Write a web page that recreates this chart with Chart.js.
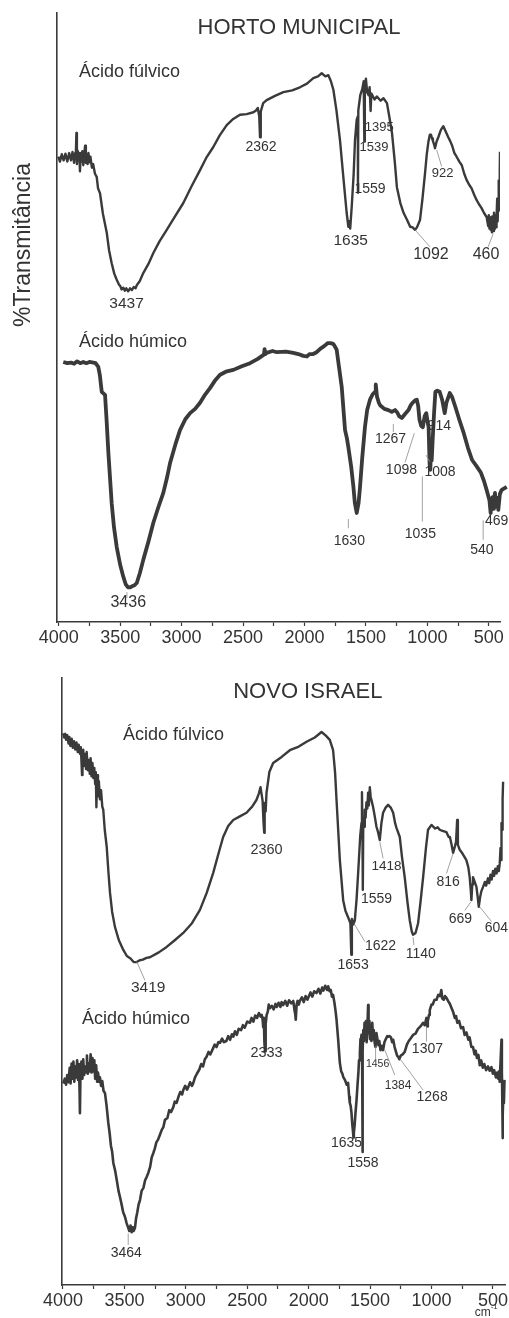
<!DOCTYPE html>
<html>
<head>
<meta charset="utf-8">
<script src="https://cdn.jsdelivr.net/npm/chart.js@4.4.1/dist/chart.umd.min.js"></script>
<style>
  html, body { margin: 0; padding: 0; background: #fff; }
  #wrap { position: relative; width: 509px; height: 1318px; }
  .box { position: absolute; left: 0; width: 509px; }
  #top { top: 0; height: 655px; }
  #bot { top: 655px; height: 663px; }
</style>
</head>
<body>
<div id="wrap">
  <div class="box" id="top"><canvas id="c1"></canvas></div>
  <div class="box" id="bot"><canvas id="c2"></canvas></div>
</div>
<script>
// ===== dados (número de onda cm-1, %T arbitrária 0-100) =====
const xTicks = [4000,3750,3500,3250,3000,2750,2500,2250,2000,1750,1500,1250,1000,750,500];
const xLabels = [4000,3500,3000,2500,2000,1500,1000,500];

const hortoFulvico = [[4003,76.4],[3990,75.6],[3975,76.8],[3960,75.8],[3945,76.9],[3930,75.6],[3915,77.0],[3900,75.8],
  [3888,77.2],[3875,75.4],[3866,77.0],[3862,76.0],[3856,80.3],[3852,75.2],[3846,77.4],[3840,75.8],[3833,77.0],[3827,74.0],
  [3821,76.8],[3815,75.6],[3808,77.3],[3800,75.0],[3792,77.0],[3785,78.2],[3779,75.4],[3772,76.8],[3765,75.2],[3758,77.0],
  [3750,75.5],[3742,76.4],[3730,74.6],[3720,75.2],[3705,73.6],[3691,73.1],[3680,71.2],[3664,70.4],[3640,67.0],[3609,63.9],
  [3590,61.0],[3569,58.9],[3548,57.2],[3528,56.2],[3510,55.4],[3500,55.2],[3488,54.6],[3474,54.9],[3462,54.4],[3450,54.8],
  [3435,54.3],[3420,54.8],[3405,54.5],[3390,55.0],[3375,54.8],[3365,55.3],[3340,56.0],[3312,57.3],[3270,58.8],[3230,60.6],
  [3180,62.5],[3121,64.4],[3060,66.4],[2986,68.8],[2920,71.5],[2850,74.2],[2800,76.2],[2742,78.0],[2690,79.9],[2633,81.6],
  [2580,82.6],[2525,83.3],[2470,83.4],[2416,83.7],[2395,84.0],[2380,84.4],[2368,83.0],[2362,79.6],[2356,83.8],[2345,84.6],
  [2336,85.2],[2308,85.7],[2240,86.4],[2172,87.0],[2100,87.3],[2037,87.8],[1980,88.4],[1928,89.3],[1890,89.6],[1860,90.1],
  [1830,89.6],[1806,89.8],[1785,88.8],[1765,87.4],[1740,84.0],[1711,79.1],[1684,73.1],[1657,67.2],[1643,64.9],[1635,65.8],
  [1628,64.6],[1616,68.1],[1600,73.5],[1589,79.1],[1575,82.5],[1566,83.0],[1565,70.5],[1562,84.0],[1546,86.5],[1530,87.5],
  [1518,88.8],[1513,78.9],[1509,88.0],[1500,89.2],[1490,87.0],[1478,86.5],[1470,87.8],[1462,83.9],[1456,86.8],[1430,85.8],
  [1411,86.3],[1380,85.6],[1357,86.0],[1329,85.2],[1310,83.0],[1288,80.3],[1265,75.5],[1248,71.4],[1220,68.8],[1194,67.2],
  [1165,66.0],[1140,64.9],[1120,64.8],[1100,64.4],[1085,64.8],[1060,66.0],[1040,69.5],[1019,73.7],[1005,76.8],[992,78.8],
  [980,80.0],[970,80.0],[962,79.4],[955,79.0],[945,78.4],[938,77.8],[925,78.9],[911,79.6],[890,80.8],[870,81.4],[850,80.5],
  [830,79.6],[815,79.0],[800,78.3],[780,77.0],[762,76.4],[740,75.6],[720,75.0],[700,73.6],[681,72.6],[660,71.8],[640,71.2],
  [620,70.2],[600,69.3],[580,68.6],[560,68.0],[540,67.2],[518,66.5],[505,65.0],[500,66.8],[495,64.6],[490,66.2],[485,64.4],
  [480,66.5],[475,64.0],[470,66.6],[464,64.2],[458,67.2],[452,64.5],[447,66.8],[441,64.8],[437,66.4],[432,69.5],[428,65.8],
  [425,68.5],[421,72.5],[418,67.5],[414,70.0],[411,74.0],[409,77.2]];

const hortoHumico = [[3963,42.7],[3930,42.5],[3900,42.6],[3875,42.4],[3850,42.8],[3825,42.5],[3800,42.7],[3775,42.5],
  [3750,42.7],[3718,42.6],[3700,42.5],[3678,41.9],[3665,40.5],[3650,37.8],[3623,37.3],[3610,33.0],[3596,27.8],[3569,19.5],
  [3550,15.5],[3528,12.3],[3500,9.4],[3474,7.4],[3455,6.2],[3436,5.7],[3418,5.7],[3400,5.9],[3385,6.0],[3365,6.4],
  [3340,8.0],[3312,10.2],[3270,13.2],[3230,16.3],[3190,18.8],[3149,21.2],[3120,23.6],[3094,26.1],[3050,29.2],[3013,31.5],
  [2970,33.3],[2931,34.3],[2890,35.0],[2850,36.0],[2810,37.3],[2769,38.4],[2730,39.6],[2687,40.6],[2640,41.1],[2579,41.4],
  [2510,42.0],[2443,42.5],[2380,43.2],[2330,43.9],[2325,44.8],[2318,44.0],[2308,44.2],[2260,44.5],[2226,44.3],[2150,44.4],
  [2091,44.2],[2050,44.0],[2010,43.7],[1980,43.6],[1960,44.0],[1930,44.0],[1901,44.3],[1870,44.9],[1840,45.3],[1810,45.8],
  [1792,45.8],[1770,45.7],[1760,45.5],[1738,44.7],[1720,42.0],[1697,38.6],[1670,31.5],[1655,30.2],[1643,28.7],[1620,25.5],
  [1602,22.2],[1590,19.5],[1575,17.9],[1560,19.5],[1548,22.2],[1530,27.0],[1508,32.0],[1490,34.8],[1467,36.5],[1445,37.4],
  [1426,37.8],[1420,39.0],[1410,37.0],[1395,36.0],[1385,35.6],[1350,35.0],[1317,34.8],[1290,34.5],[1263,34.8],[1245,34.4],
  [1230,33.8],[1208,33.5],[1180,34.2],[1154,34.8],[1135,35.6],[1120,36.0],[1100,36.4],[1086,36.5],[1075,35.5],[1064,33.2],
  [1050,32.2],[1037,32.0],[1022,33.8],[1009,34.3],[995,32.5],[990,32.0],[982,26.0],[976,25.0],[970,29.0],[965,26.5],
  [957,29.9],[945,34.5],[935,37.8],[920,38.0],[900,37.8],[880,36.5],[859,34.3],[845,36.0],[818,37.6],[800,37.0],[772,35.3],
  [740,33.2],[704,31.0],[670,28.6],[636,26.6],[600,25.6],[564,24.5],[540,23.2],[518,21.7],[495,20.0],[485,17.9],[478,19.6],
  [470,20.5],[464,18.6],[458,19.8],[450,21.2],[443,19.0],[438,20.4],[430,20.0],[423,18.4],[410,21.0],[395,21.7],[354,22.2]];

const novoFulvico = [[3998,90.9],[3990,90.2],[3982,90.8],[3975,89.8],[3965,90.6],[3955,89.2],[3948,90.3],[3940,88.8],
  [3929,90.0],[3920,88.5],[3910,89.6],[3900,88.2],[3890,89.4],[3880,87.8],[3872,89.0],[3862,87.5],[3855,88.6],[3850,86.5],
  [3845,84.0],[3841,85.8],[3835,88.2],[3828,85.5],[3820,87.5],[3812,85.0],[3807,87.8],[3798,84.8],[3790,86.5],[3782,84.2],
  [3775,86.8],[3768,83.8],[3760,86.0],[3753,83.5],[3745,85.2],[3738,82.5],[3733,84.5],[3728,78.7],[3722,84.0],[3715,80.5],
  [3708,83.0],[3699,80.0],[3690,81.5],[3680,78.8],[3672,78.3],[3660,75.0],[3644,72.2],[3630,68.0],[3617,64.6],[3600,61.5],
  [3577,59.0],[3545,56.8],[3509,55.2],[3480,54.2],[3450,53.8],[3425,53.2],[3400,53.2],[3375,53.5],[3350,53.6],[3320,53.9],
  [3292,54.0],[3220,54.8],[3156,55.7],[3090,56.8],[3021,58.0],[2950,59.6],[2885,61.8],[2830,64.6],[2777,67.9],[2735,71.0],
  [2696,73.8],[2655,75.6],[2614,76.6],[2560,77.2],[2506,77.8],[2460,78.8],[2425,79.9],[2405,81.0],[2392,82.0],[2375,79.8],
  [2368,76.5],[2362,74.5],[2358,79.4],[2350,78.0],[2343,81.1],[2320,84.5],[2289,86.0],[2220,87.0],[2153,88.1],[2080,88.7],
  [2017,89.5],[1950,90.2],[1895,91.1],[1860,90.5],[1828,89.8],[1801,88.1],[1785,84.5],[1773,79.9],[1746,70.0],[1719,63.4],
  [1700,61.6],[1679,60.6],[1660,59.6],[1653,54.4],[1648,60.3],[1635,59.4],[1624,60.1],[1610,63.5],[1597,67.9],[1580,74.0],
  [1570,76.1],[1566,81.2],[1562,75.5],[1559,65.1],[1555,77.0],[1549,75.5],[1543,78.3],[1536,77.0],[1530,79.5],[1522,78.5],
  [1516,81.1],[1510,79.0],[1502,82.0],[1495,80.4],[1490,80.0],[1475,78.7],[1460,77.0],[1448,75.5],[1435,74.6],[1421,73.3],
  [1408,76.0],[1394,77.8],[1375,78.6],[1353,79.1],[1330,78.6],[1312,77.8],[1295,76.0],[1285,75.3],[1258,73.8],[1240,70.5],
  [1218,67.2],[1195,63.0],[1177,60.1],[1160,58.2],[1150,57.7],[1130,58.0],[1109,59.6],[1090,63.0],[1068,67.2],[1045,72.0],
  [1028,75.0],[1000,75.8],[970,75.2],[950,75.4],[933,75.0],[910,74.8],[878,74.6],[860,73.8],[850,73.8],[835,72.4],[824,71.2],
  [810,72.2],[800,73.0],[791,76.6],[785,72.5],[770,71.7],[745,71.0],[716,70.0],[700,68.8],[689,67.2],[680,65.0],[675,63.4],
  [668,66.0],[662,67.2],[648,66.4],[634,65.6],[622,63.6],[615,62.3],[605,63.8],[595,64.8],[580,65.6],[565,66.4],[555,65.8],
  [540,67.0],[530,66.2],[520,67.6],[510,66.8],[499,68.2],[490,67.4],[480,68.6],[470,67.8],[460,69.0],[452,68.2],[444,69.5],
  [438,72.0],[434,70.0],[430,76.1],[425,75.0],[421,80.0],[417,82.9]];

const novoHumico = [[3998,33.2],[3985,34.0],[3975,33.0],[3965,34.6],[3955,33.4],[3945,35.8],[3938,33.2],[3930,36.5],
  [3922,34.0],[3915,36.8],[3908,33.5],[3900,36.0],[3892,34.2],[3885,37.0],[3877,33.8],[3870,36.4],[3865,32.0],[3862,28.3],
  [3858,34.5],[3850,36.8],[3842,34.0],[3835,37.2],[3828,34.6],[3820,36.0],[3812,35.0],[3805,37.8],[3798,34.8],[3790,36.5],
  [3782,35.2],[3775,38.0],[3768,35.0],[3760,37.4],[3753,35.2],[3745,37.0],[3738,34.0],[3730,36.2],[3722,33.5],[3715,35.0],
  [3705,33.5],[3699,34.2],[3690,32.8],[3680,33.6],[3670,32.0],[3658,31.6],[3645,29.5],[3631,26.7],[3620,25.0],[3610,23.0],
  [3600,22.0],[3590,20.1],[3575,18.8],[3560,17.0],[3548,15.5],[3536,14.5],[3522,13.2],[3510,12.0],[3495,11.2],[3482,10.2],
  [3470,9.5],[3460,8.9],[3450,9.8],[3441,8.7],[3432,9.5],[3425,8.9],[3414,9.4],[3405,11.0],[3395,12.0],[3385,13.2],
  [3373,14.0],[3360,15.5],[3345,16.0],[3332,17.2],[3319,17.8],[3305,18.5],[3290,19.5],[3278,21.0],[3265,21.7],[3252,22.5],
  [3240,23.5],[3225,24.0],[3210,24.8],[3197,25.5],[3183,26.0],[3170,27.2],[3150,27.5],[3135,28.8],[3120,28.5],[3102,29.3],
  [3090,30.2],[3075,30.0],[3060,31.0],[3045,31.8],[3030,31.4],[3021,32.1],[3005,32.8],[2990,32.2],[2980,32.6],[2965,33.4],
  [2950,32.8],[2939,33.3],[2925,34.2],[2910,34.8],[2890,35.5],[2875,36.4],[2860,36.0],[2845,37.2],[2831,37.6],[2815,38.4],
  [2800,38.0],[2780,38.9],[2765,39.6],[2750,39.2],[2735,40.0],[2722,39.9],[2705,40.6],[2690,40.0],[2670,40.2],[2655,41.0],
  [2640,40.4],[2625,41.3],[2614,40.9],[2600,41.8],[2585,41.2],[2570,42.2],[2550,42.0],[2535,42.8],[2520,42.4],[2500,43.4],
  [2478,43.2],[2465,44.0],[2450,43.4],[2435,44.4],[2420,44.0],[2405,44.8],[2390,44.2],[2383,44.5],[2375,43.8],[2370,42.5],
  [2365,44.0],[2360,39.9],[2355,38.5],[2350,43.0],[2342,44.5],[2333,45.0],[2325,46.2],[2316,45.6],[2300,46.0],[2285,45.4],
  [2270,46.3],[2260,45.8],[2245,46.5],[2230,45.8],[2220,46.6],[2208,46.1],[2190,46.8],[2175,46.0],[2160,46.9],[2140,46.4],
  [2125,46.8],[2115,45.2],[2110,44.8],[2105,43.7],[2098,46.2],[2090,46.8],[2080,46.2],[2072,46.8],[2055,47.4],[2040,46.6],
  [2025,47.6],[2010,47.0],[2000,47.5],[1985,48.2],[1970,47.5],[1955,48.4],[1936,48.1],[1920,48.8],[1905,48.0],[1890,49.0],
  [1880,48.5],[1865,49.3],[1850,48.6],[1841,49.2],[1830,48.4],[1820,48.6],[1810,47.5],[1801,47.8],[1790,46.5],[1780,45.0],
  [1773,43.7],[1760,40.5],[1746,36.6],[1735,35.2],[1725,34.8],[1719,34.3],[1705,33.8],[1690,33.0],[1679,33.3],[1670,31.0],
  [1665,30.0],[1658,29.5],[1651,28.3],[1645,26.5],[1640,25.5],[1635,24.3],[1632,25.0],[1625,26.5],[1620,28.0],[1610,30.5],
  [1602,33.0],[1595,35.0],[1590,37.0],[1583,38.2],[1578,40.5],[1575,40.0],[1570,41.2],[1565,39.0],[1562,21.9],[1559,38.5],
  [1555,42.0],[1550,40.2],[1545,43.2],[1540,40.8],[1533,43.5],[1528,40.0],[1522,42.0],[1516,46.1],[1512,41.5],[1505,43.5],
  [1500,40.5],[1494,42.5],[1489,40.2],[1482,43.2],[1475,40.5],[1470,42.0],[1463,40.0],[1456,39.2],[1448,41.5],[1440,40.5],
  [1432,39.5],[1425,40.2],[1415,38.7],[1405,39.4],[1394,38.7],[1383,40.0],[1370,40.6],[1360,41.0],[1353,40.9],[1340,41.0],
  [1330,40.8],[1320,40.0],[1312,40.4],[1300,39.2],[1290,38.5],[1280,37.8],[1271,37.6],[1262,37.2],[1250,37.8],[1235,38.0],
  [1218,38.4],[1200,39.6],[1185,40.2],[1170,40.6],[1150,41.2],[1130,41.4],[1110,42.2],[1090,42.6],[1068,43.2],[1055,42.8],
  [1041,44.0],[1035,42.6],[1030,43.5],[1020,44.5],[1014,45.3],[1000,46.2],[990,46.2],[975,47.0],[959,47.0],[945,47.8],
  [930,47.6],[920,48.6],[912,47.2],[900,47.0],[890,47.6],[878,47.3],[865,46.8],[850,46.3],[836,45.6],[824,45.0],[810,44.0],
  [800,44.3],[790,43.2],[775,43.5],[760,42.3],[743,42.5],[730,41.2],[715,41.6],[700,40.4],[690,40.8],[675,39.2],[662,39.2],
  [650,38.0],[640,38.6],[630,37.4],[618,37.9],[607,36.2],[595,37.0],[582,35.8],[570,36.4],[555,35.4],[540,36.0],[526,35.3],
  [512,35.9],[500,34.8],[490,35.4],[475,34.2],[465,35.0],[458,34.0],[450,35.2],[445,33.5],[436,37.5],[430,40.4],[427,35.0],
  [425,33.0],[422,24.2],[418,28.0],[415,31.5],[410,30.0],[404,33.8]];

// títulos: [texto, cm-1, %T, tamanho, alinhamento]
const hortoHeads = [['HORTO MUNICIPAL',2045,97.5,22,'center'],['Ácido fúlvico',3835,90.3,18,'left'],['Ácido húmico',3835,46.0,18,'left']];
const novoHeads = [['NOVO ISRAEL',2007,97.7,22,'center'],['Ácido fúlvico',3512,90.6,18,'left'],['Ácido húmico',3845,43.8,18,'left']];

// picos: [rótulo, cm-1, %T, tamanho]
const hortoPeaks = [['3437',3448,52.2,15.5],['2362',2354,77.9,14],['1635',1624,62.6,15.5],['1559',1467,71.0,14],
  ['1539',1435,77.9,13],['1395',1391,81.2,13],['922',876,73.7,13],['1092',971,60.3,16],['460',523,60.3,16],
  ['3436',3434,3.2,16],['1630',1635,13.2,14],['1267',1300,30.0,14],['1098',1211,25.0,14],['914',903,32.2,14],
  ['1008',897,24.6,14],['1035',1057,14.4,14],['540',556,11.8,14],['469',436,16.6,14]];
const hortoLeaders = [[924,77.5,884,74.8],[1101,64.4,979,61.6],[464,63.8,505,61.6],[3445,4.9,3445,3.9],[1643,16.9,1643,15.4],
  [1277,32.5,1277,31.2],[1106,31.0,1182,26.2],[1011,27.4,979,26.3],[1041,23.9,1041,16.5],[546,16.7,546,13.5]];

const novoPeaks = [['3419',3306,48.9,15.5],['2360',2343,71.7,14.5],['1418',1366,68.9,13.5],['1559',1448,63.5,14],
  ['816',865,66.3,14],['669',764,60.2,14],['604',471,58.8,14],['1622',1415,55.8,14],['1140',1087,54.5,14],
  ['1653',1638,52.7,14],['2333',2343,38.3,14.5],['1635',1692,23.3,14],['1558',1557,20.0,14],['1456',1439,36.4,10.5],
  ['1384',1272,32.9,12],['1268',995,30.9,14],['1307',1033,38.9,14],['3464',3485,5.3,14]];
const novoLeaders = [[3400,53.3,3333,50.2],[1421,73.0,1394,70.3],[824,71.1,878,67.8],[680,63.1,729,61.7],[607,62.3,512,59.9],
  [1632,59.6,1543,56.6],[1150,57.3,1143,56.0],[1455,39.3,1455,37.1],[1380,38.7,1299,34.6],[1258,37.3,1068,32.1],
  [1041,42.6,1041,40.1],[3469,8.5,3469,6.6]];

// ===== estilo =====
const FONT = '"Liberation Sans", Arial, sans-serif';
const INK = '#3a3a3a', TXT = '#333';

const toXY = arr => arr.map(([x, y]) => ({x, y}));

const textPlugin = {
  id: 'irText',
  afterDatasetsDraw(chart, args, o) {
    const {ctx, chartArea, scales: {x, y}} = chart;
    ctx.save();
    ctx.fillStyle = TXT;
    ctx.textBaseline = 'middle';
    (o.heads || []).forEach(([t, cm, T, s, al]) => {
      ctx.font = s + 'px ' + FONT; ctx.textAlign = al;
      ctx.fillText(t, x.getPixelForValue(cm), y.getPixelForValue(T));
    });
    ctx.textAlign = 'center';
    (o.peaks || []).forEach(([t, cm, T, s]) => {
      ctx.font = s + 'px ' + FONT;
      ctx.fillText(t, x.getPixelForValue(cm), y.getPixelForValue(T));
    });
    ctx.strokeStyle = '#8a8a8a'; ctx.lineWidth = 0.8;
    (o.leaders || []).forEach(([a, b, c, d]) => {
      ctx.beginPath();
      ctx.moveTo(x.getPixelForValue(a), y.getPixelForValue(b));
      ctx.lineTo(x.getPixelForValue(c), y.getPixelForValue(d));
      ctx.stroke();
    });
    if (o.yTitle) {
      ctx.font = '23px ' + FONT; ctx.fillStyle = TXT;
      ctx.translate(chartArea.left - 33, y.getPixelForValue(61.9));
      ctx.rotate(-Math.PI / 2);
      ctx.fillText(o.yTitle, 0, 0);
      ctx.setTransform(1, 0, 0, 1, 0, 0);
    }
    if (o.unit) {
      const ux = x.getPixelForValue(583), uy = chartArea.bottom + 28;
      ctx.font = '12px ' + FONT; ctx.textAlign = 'center';
      ctx.fillText('cm', ux, uy);
      ctx.font = '8px ' + FONT; ctx.textAlign = 'left';
      ctx.fillText('-1', ux + 8, uy - 6);
    }
    ctx.restore();
  }
};

function panel(canvas, cfg) {
  return new Chart(canvas, {
    type: 'line',
    data: {
      datasets: cfg.series.map(s => ({
        data: toXY(s.data), borderColor: INK, borderWidth: s.w, pointRadius: 0,
        tension: 0, fill: false, clip: s.clip || 0, borderJoinStyle: 'round'
      }))
    },
    options: {
      responsive: true, maintainAspectRatio: false, animation: false,
      layout: { padding: { top: cfg.top, right: cfg.right, left: 0, bottom: 0 } },
      plugins: { legend: { display: false }, tooltip: { enabled: false },
        irText: { heads: cfg.heads, peaks: cfg.peaks, leaders: cfg.leaders, yTitle: cfg.yTitle, unit: cfg.unit } },
      scales: {
        x: {
          type: 'linear', reverse: true, min: cfg.min, max: cfg.max,
          afterBuildTicks: s => { s.ticks = xTicks.map(v => ({value: v})); },
          afterFit: s => { s.height = 33; },
          ticks: { autoSkip: false, maxRotation: 0, padding: 1, color: TXT,
            font: { family: FONT, size: 18 },
            callback: v => xLabels.includes(v) ? String(v) : '' },
          grid: { drawOnChartArea: false, drawTicks: true, tickLength: 4, tickColor: INK, tickWidth: 1.2 },
          border: { display: true, color: INK, width: 1.6 }
        },
        y: {
          min: 0, max: 100,
          afterFit: s => { s.width = cfg.left; },
          ticks: { display: false },
          grid: { display: false },
          border: { display: true, color: INK, width: 1.6 }
        }
      }
    },
    plugins: [textPlugin]
  });
}

panel(document.getElementById('c1'), {
  min: 409, max: 4014, left: 57, right: 9, top: 13,
  series: [{data: hortoFulvico, w: 2.4}, {data: hortoHumico, w: 3.8, clip: {left: 0, top: 0, right: 9, bottom: 0}}],
  heads: hortoHeads, peaks: hortoPeaks, leaders: hortoLeaders, yTitle: '%Transmitância'
});

panel(document.getElementById('c2'), {
  min: 395, max: 4008, left: 62, right: 3, top: 23,
  series: [{data: novoFulvico, w: 2.4}, {data: novoHumico, w: 2.6}],
  heads: novoHeads, peaks: novoPeaks, leaders: novoLeaders, unit: true
});
</script>
</body>
</html>
